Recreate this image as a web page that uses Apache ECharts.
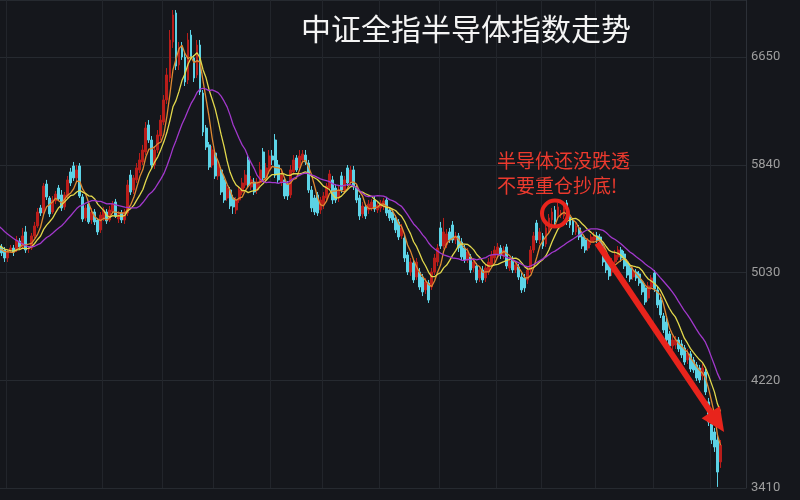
<!DOCTYPE html>
<html><head><meta charset="utf-8">
<script src="https://cdn.jsdelivr.net/npm/echarts@6/dist/echarts.min.js"></script>
<style>html,body{margin:0;padding:0;background:#15171c;}#c{width:800px;height:500px;}</style>
</head><body><div id="c"></div>
<script>
const titleText = '中证全指半导体指数走势';
const noteLines = ['半导体还没跌透', '不要重仓抄底!'];
const yTicks = [3410, 4220, 5030, 5840, 6650];
// visible candle indices where month separators fall
const monthStarts = [2, 34, 54, 71, 90, 107, 126, 146, 165, 180, 198, 217, 236];
// candles before the visible window (only feed the moving averages) [open, close, low, high]
const preCandles = [
[5620,5580,5550,5650],[5580,5610,5560,5640],[5600,5540,5520,5620],[5540,5570,5510,5600],[5570,5520,5490,5590],
[5520,5560,5500,5590],[5560,5500,5470,5580],[5500,5530,5480,5560],[5530,5460,5440,5550],[5460,5400,5380,5480],
[5400,5330,5300,5420],[5330,5280,5260,5350],[5280,5250,5220,5300],[5250,5270,5230,5300],[5270,5220,5190,5290],
[5220,5180,5150,5240],[5180,5210,5160,5240],[5210,5190,5170,5230],[5190,5230,5170,5250],[5230,5200,5180,5250]
];
// visible candles [open, close, low, high]
const candles = [
[5222,5177,5154,5244],[5199,5139,5109,5222],[5139,5184,5109,5207],[5199,5214,5177,5237],[5214,5184,5154,5237],[5199,5274,5184,5305],[5267,5222,5199,5289],[5222,5305,5207,5365],[5335,5199,5177,5380],[5207,5214,5177,5229],
[5214,5305,5199,5327],[5305,5380,5289,5410],[5380,5485,5365,5515],[5515,5477,5455,5538],[5477,5680,5455,5703],[5695,5598,5575,5726],[5590,5470,5447,5605],[5485,5575,5470,5605],[5568,5620,5545,5643],[5665,5583,5568,5688],
[5613,5515,5492,5650],[5523,5613,5500,5635],[5605,5726,5590,5756],[5786,5703,5680,5816],[5831,5741,5718,5861],[5741,5801,5710,5838],[5831,5605,5590,5853],[5598,5432,5410,5620],[5440,5515,5417,5538],[5545,5410,5395,5568],
[5425,5485,5395,5515],[5485,5410,5387,5507],[5425,5335,5312,5440],[5350,5462,5327,5485],[5440,5500,5417,5523],[5485,5417,5395,5507],[5425,5500,5410,5530],[5485,5545,5470,5568],[5560,5455,5440,5583],[5432,5470,5402,5492],
[5477,5425,5402,5500],[5425,5485,5395,5507],[5477,5688,5455,5726],[5763,5635,5613,5801],[5650,5741,5620,5763],[5726,5816,5703,5853],[5801,5876,5778,5928],[5861,5951,5838,5989],[5936,6116,5913,6161],[6139,6026,6004,6176],
[6026,5838,5816,6056],[5838,5951,5808,5981],[5951,6064,5928,6101],[6056,6176,6026,6214],[6161,6327,6139,6364],[6327,6515,6297,6567],[6492,6778,6462,6853],[6763,6966,6718,7003],[6981,6582,6552,7003],[6590,6718,6552,6763],
[6725,6650,6628,6763],[6650,6462,6432,6688],[6477,6778,6447,6830],[6815,6650,6628,6853],[6643,6492,6462,6665],[6515,6740,6492,6778],[6740,6387,6364,6778],[6379,6086,6056,6402],[6116,5973,5951,6139],[5989,5823,5801,6011],
[5838,5951,5816,5981],[5928,5756,5733,5951],[5756,5838,5726,5876],[5801,5635,5613,5823],[5726,5575,5553,5756],[5590,5665,5568,5688],[5650,5530,5507,5673],[5590,5523,5470,5613],[5500,5575,5470,5598],[5575,5650,5553,5680],
[5635,5703,5613,5741],[5688,5763,5665,5801],[5876,5688,5665,5906],[5673,5726,5650,5756],[5710,5635,5613,5741],[5650,5710,5620,5741],[5703,5801,5680,5861],[5936,5741,5710,5966],[5741,5816,5710,5853],[5801,5906,5771,5951],
[5906,5876,5838,5951],[6026,5763,5741,6071],[5838,5726,5703,5876],[5710,5763,5680,5801],[5726,5605,5583,5748],[5695,5605,5575,5718],[5613,5801,5590,5838],[5786,5876,5763,5913],[5891,5801,5786,5913],[5816,5906,5793,5951],
[5876,5921,5853,5951],[5913,5861,5838,5951],[5853,5650,5628,5876],[5650,5515,5485,5680],[5590,5485,5462,5613],[5613,5477,5455,5635],[5500,5575,5470,5598],[5538,5605,5507,5635],[5590,5680,5560,5703],[5665,5771,5650,5801],
[5726,5575,5545,5756],[5665,5575,5553,5695],[5590,5650,5560,5680],[5756,5650,5628,5786],[5650,5726,5620,5756],[5816,5703,5680,5838],[5710,5801,5688,5831],[5801,5673,5650,5831],[5665,5575,5553,5688],[5590,5455,5425,5613],
[5470,5530,5440,5560],[5523,5455,5432,5545],[5500,5545,5470,5575],[5515,5560,5492,5583],[5575,5507,5485,5605],[5500,5538,5477,5568],[5515,5553,5485,5575],[5530,5568,5500,5590],[5575,5477,5455,5598],[5500,5440,5417,5523],
[5485,5425,5402,5507],[5440,5350,5327,5462],[5410,5297,5274,5432],[5305,5365,5282,5395],[5289,5139,5109,5312],[5162,5034,5011,5184],[5034,5109,5004,5139],[5102,4974,4951,5124],[4996,5109,4974,5139],[5034,4921,4899,5064],
[4996,4884,4853,5019],[4899,4959,4869,4989],[4951,4823,4801,4974],[4921,5034,4899,5064],[5034,5139,5011,5169],[5109,5214,5079,5244],[5365,5229,5207,5410],[5229,5335,5207,5440],[5237,5320,5214,5357],[5335,5274,5252,5365],
[5387,5274,5252,5417],[5274,5305,5244,5335],[5305,5214,5184,5327],[5259,5147,5124,5289],[5214,5124,5102,5237],[5124,5184,5102,5214],[5147,5049,5026,5169],[5064,5109,5034,5139],[5079,4974,4951,5102],[4989,5049,4959,5079],
[5049,4974,4951,5079],[4989,5064,4959,5094],[5034,5109,5011,5139],[5087,5162,5064,5192],[5139,5199,5109,5229],[5169,5222,5147,5252],[5214,5162,5132,5237],[5154,5199,5132,5229],[5222,5079,5056,5244],[5064,5117,5041,5147],
[5124,5049,5026,5154],[5049,5087,5026,5117],[5072,4996,4974,5094],[4996,4899,4876,5026],[4989,4914,4884,5019],[4974,5049,4944,5079],[5049,5199,5026,5229],[5199,5305,5177,5335],[5402,5274,5252,5425],[5274,5335,5244,5365],
[5305,5229,5207,5327],[5244,5365,5222,5395],[5350,5440,5327,5470],[5425,5485,5395,5515],[5500,5410,5387,5530],[5447,5523,5425,5553],[5462,5477,5440,5500],[5455,5515,5432,5545],[5553,5410,5387,5575],[5447,5387,5365,5470],
[5417,5335,5312,5440],[5335,5380,5312,5410],[5365,5297,5274,5387],[5297,5229,5207,5320],[5274,5199,5177,5305],[5214,5267,5192,5289],[5259,5297,5237,5320],[5274,5305,5252,5335],[5305,5274,5252,5335],[5297,5229,5207,5320],
[5222,5109,5079,5244],[5147,5049,5026,5169],[5094,5004,4974,5117],[5034,5109,5004,5139],[5109,5162,5087,5199],[5147,5199,5124,5229],[5199,5139,5109,5222],[5169,5079,5056,5192],[5109,5011,4989,5132],[5064,4981,4959,5087],
[4996,5041,4974,5072],[5034,4989,4966,5056],[5019,4951,4929,5041],[4959,4884,4861,4981],[4914,4808,4786,4936],[4838,4929,4816,4959],[4921,4989,4899,5011],[5026,4906,4884,5049],[4899,4786,4763,4921],[4823,4711,4688,4846],
[4703,4598,4575,4726],[4658,4523,4500,4688],[4568,4478,4455,4590],[4478,4523,4448,4553],[4485,4523,4455,4553],[4523,4455,4433,4545],[4493,4410,4387,4523],[4463,4357,4335,4485],[4372,4425,4342,4455],[4418,4305,4282,4440],
[4372,4297,4275,4395],[4335,4237,4215,4357],[4312,4222,4200,4335],[4252,4312,4222,4342],[4282,4132,4109,4305],[4057,3906,3876,4087],[3891,3771,3741,3921],[3831,3718,3681,3861],[3771,3530,3418,3816],[3606,3733,3561,3771]
];
const maPeriods = [5, 10, 20];
const maColors = ['#de8a32', '#e2d84c', '#a238cc'];
const emptyTail = 8;
// annotation anchors (visible candle index, price)
const circleAt = [184, 5473];
const arrowFrom = [198, 5252];
const arrowTo = [238, 3905];

const all = preCandles.concat(candles);
const offset = preCandles.length;
const cats = [];
for (let i = 0; i < all.length + emptyTail; i++) cats.push(String(i));
function ma(n) {
  return all.map((d, i) => {
    if (i < n - 1) return '-';
    let s = 0;
    for (let j = i - n + 1; j <= i; j++) s += all[j][1];
    return +(s / n).toFixed(2);
  });
}
const monthSet = new Set(monthStarts.map(i => i + offset));
const chart = echarts.init(document.getElementById('c'), null, {renderer: 'canvas'});
const maSeries = maPeriods.map((p, i) => ({
  name: 'MA' + p, type: 'line', data: ma(p), symbol: 'none', smooth: false,
  lineStyle: {color: maColors[i], width: 1.3}, z: 3 + i, animation: false
}));
maSeries[2].markPoint = {
  silent: true, symbol: 'circle', symbolSize: 26, label: {show: false},
  itemStyle: {color: 'rgba(0,0,0,0)', borderColor: '#e8241c', borderWidth: 4},
  data: [{coord: [String(circleAt[0] + offset), circleAt[1]]}]
};
maSeries[2].markLine = {
  silent: true, symbol: ['none', 'triangle'], symbolSize: [22, 24], label: {show: false},
  lineStyle: {color: '#e8241c', width: 6, type: 'solid'},
  data: [[{coord: [String(arrowFrom[0] + offset), arrowFrom[1]]}, {coord: [String(arrowTo[0] + offset), arrowTo[1]]}]]
};
chart.setOption({
  backgroundColor: '#15171c',
  animation: false,
  title: {text: titleText, left: 296, top: 9,
    textStyle: {color: '#f4f4f4', fontSize: 30, fontWeight: 'normal', fontFamily: 'Noto Sans CJK SC'}},
  grid: {left: 0, right: 54, top: 0, bottom: 12},
  xAxis: {type: 'category', data: cats, min: offset, max: cats.length - 1, boundaryGap: true,
    axisLine: {show: false}, axisTick: {show: false}, axisLabel: {show: false},
    splitLine: {show: true, interval: (idx) => monthSet.has(idx), lineStyle: {color: '#22252b', width: 1}}},
  yAxis: {type: 'value', position: 'right', min: yTicks[0], max: 7078.5, interval: yTicks[1] - yTicks[0],
    axisLine: {show: true, lineStyle: {color: '#2c3037'}}, axisTick: {show: false},
    axisLabel: {color: '#9e9e9e', fontSize: 13, margin: 5, fontFamily: 'Roboto',
      formatter: v => (yTicks.indexOf(Math.round(v)) >= 0 ? String(Math.round(v)) : '')},
    splitLine: {lineStyle: {color: '#262a30', width: 1}}},
  graphic: [
    {type: 'text', left: 497, top: 151, z: 100, style: {text: noteLines[0], fill: '#ec3a2e', fontSize: 19, fontFamily: 'Noto Sans CJK SC'}},
    {type: 'text', left: 497, top: 176, z: 100, style: {text: noteLines[1], fill: '#ec3a2e', fontSize: 19, fontFamily: 'Noto Sans CJK SC'}}
  ],
  series: [{
    type: 'candlestick', data: all, barWidth: 2.4, clip: true, z: 2,
    itemStyle: {color: '#b81d1a', color0: '#5cd3e6', borderColor: '#b81d1a', borderColor0: '#5cd3e6', borderWidth: 1}
  }].concat(maSeries)
});
</script></body></html>
